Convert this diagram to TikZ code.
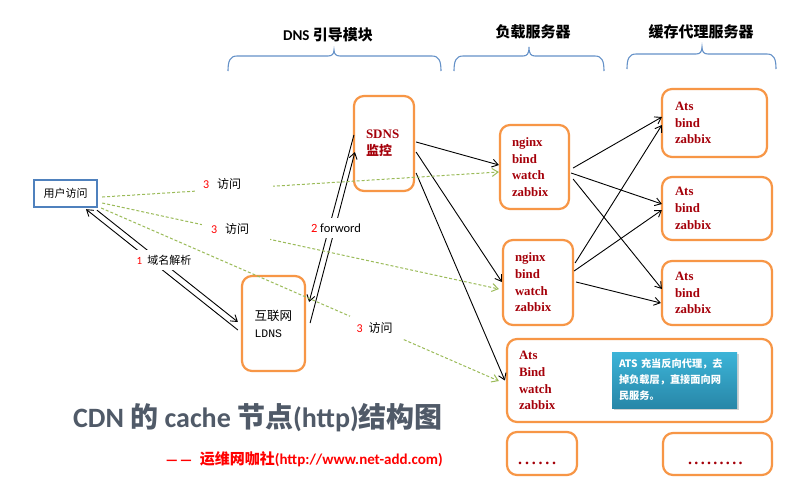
\documentclass[tikz,border=0pt]{standalone}
\usepackage{fontspec}
\setmainfont{Carlito}
\newfontfamily\cjk{Noto Sans CJK SC}
\newfontfamily\srv{Liberation Serif}
\newfontfamily\monof{Liberation Mono}
\usetikzlibrary{arrows.meta,calc,shadows}
\definecolor{obrd}{RGB}{247,150,70}
\definecolor{ublue}{RGB}{79,129,189}
\definecolor{brc}{RGB}{100,145,200}
\definecolor{dred}{RGB}{165,0,10}
\definecolor{gdash}{RGB}{155,187,89}
\definecolor{ttl}{RGB}{80,90,104}
\definecolor{ctop}{RGB}{60,180,216}
\definecolor{cbot}{RGB}{40,135,168}
\tikzset{
  obox/.style={draw=obrd, line width=2.2pt, rounded corners=10pt, inner xsep=12pt, inner ysep=0pt,
    align=left, text=dred, font=\srv\bfseries\fontsize{12.8}{16.7}\selectfont},
  blk/.style={-{Straight Barb[length=6pt,width=8pt]}, line width=0.9pt, black},
  grn/.style={-{Straight Barb[length=6pt,width=8pt]}, line width=1pt, gdash, dash pattern=on 3pt off 2pt},
  lbl/.style={fill=white, inner xsep=0pt, align=left},
  hdr/.style={font=\bfseries\fontsize{15}{18}\selectfont},
  bracestyle/.style={draw=brc, line width=1.1pt},
  dotsty/.style={text=dred, font=\srv\bfseries\fontsize{16}{18}\selectfont, inner sep=0pt, anchor=base west},
}
\newcommand{\cdnbrace}[6]{%
  \draw[bracestyle] (#1,#6) .. controls (#1,#4+5) and (#1+2,#4) .. (#1+9,#4) -- (#3-6,#4)
    .. controls (#3-2,#4) and (#3,#4-2) .. (#3,#5) .. controls (#3,#4-2) and (#3+2,#4) .. (#3+6,#4)
    -- (#2-9,#4) .. controls (#2-2,#4) and (#2,#4+5) .. (#2,#6);}
\begin{document}
\begin{tikzpicture}[x=1pt,y=-1pt]
\useasboundingbox (0,0) rectangle (809,499);
\fill[white] (0,0) rectangle (809,499);

% headers and braces
\node[hdr] (h1) at (328,35) {DNS {\cjk 引导模块}};
\node[hdr, font=\cjk\bfseries\fontsize{15}{18}\selectfont] (h2) at (533,32) {负载服务器};
\node[hdr, font=\cjk\bfseries\fontsize{15}{18}\selectfont] (h3) at (701,32) {缓存代理服务器};
\cdnbrace{228}{441}{334}{56}{50}{71}
\cdnbrace{454}{604}{529}{56}{47}{71}
\cdnbrace{627}{776}{702}{54}{47}{69}

% boxes
\node[draw=ublue, line width=2.4pt, minimum width=63, minimum height=27, inner sep=0pt,
  font=\cjk\fontsize{11}{13}\selectfont] (user) at (65.5,193.5) {用户访问};
\node[obox, minimum width=60, minimum height=95, text width=36, font=\srv\bfseries\fontsize{13}{17}\selectfont] (sdns) at (384,143.5) {SDNS\\{\cjk 监控}};
\node[obox, text=black, font=\cjk\fontsize{12.5}{17}\selectfont, minimum width=63, minimum height=95,
  text width=38, inner xsep=12.5pt] (ldns) at (273.5,323.5) {互联网\\{\monof\fontsize{11.5}{17}\selectfont LDNS}};
\node[obox, minimum width=69, minimum height=84, text width=45] (n1) at (534.5,167) {nginx\\bind\\watch\\zabbix};
\node[obox, minimum width=70, minimum height=85, text width=46] (n2) at (538,282.5) {nginx\\bind\\watch\\zabbix};
\node[obox, minimum width=105, minimum height=68, text width=79, inner xsep=13pt] (a1) at (714.5,123) {Ats\\bind\\zabbix};
\node[obox, minimum width=110, minimum height=63, text width=84, inner xsep=13pt] (a2) at (717,208.5) {Ats\\bind\\zabbix};
\node[obox, minimum width=110, minimum height=64, text width=84, inner xsep=13pt] (a3) at (717,293) {Ats\\bind\\zabbix};
\node[obox, minimum width=265, minimum height=83, text width=241] (big) at (639.5,380.5) {Ats\\Bind\\watch\\zabbix};
\node[top color=ctop, bottom color=cbot, drop shadow={opacity=0.35, shadow xshift=1.5pt, shadow yshift=-1.5pt},
  minimum width=125, minimum height=56, text width=111, inner xsep=7pt, align=left, text=white,
  font=\cjk\bfseries\fontsize{10.2}{16}\selectfont] (note) at (674.5,380) {ATS 充当反向代理，去\\掉负载层，直接面向网\\民服务。};
\node[obox, minimum width=70, minimum height=43] (d1) at (542,453.5) {};
\node[obox, minimum width=109, minimum height=42] (d2) at (717.5,454) {};
\node[dotsty] (d1t) at (518,464) {.\kern2.8pt.\kern2.8pt.\kern2.8pt.\kern2.8pt.\kern2.8pt.};
\node[dotsty] (d2t) at (688,464) {.\kern2.3pt.\kern2.3pt.\kern2.3pt.\kern2.3pt.\kern2.3pt.\kern2.3pt.\kern2.3pt.\kern2.3pt.};

% connectors
\draw[blk] ($(ldns.west)+(-3,6.5)$) -- ($(user.south)+(20.5,1)$);
\draw[blk] ($(user.south)+(31.5,2)$) -- ($(ldns.west)+(-3,-1.5)$);
\draw[blk] ($(ldns.east)+(4,-0.5)$) -- ($(sdns.west)+(2,8.5)$);
\draw[blk] ($(sdns.west)+(1,-8.5)$) -- ($(ldns.east)+(3,-21.5)$);
\draw[blk] ($(sdns.east)+(1,-1.5)$) -- ($(n1.west)+(0,-2)$);
\draw[blk] ($(sdns.east)+(1,8.5)$) -- ($(n2.west)+(0,-0.5)$);
\draw[blk] ($(sdns.east)+(1,29.5)$) -- ($(big.west)+(-1,0)$);
\draw[blk] ($(n1.east)+(3,1)$) -- ($(a1.west)+(1,-6)$);
\draw[blk] ($(n1.east)+(1,6)$) -- ($(a2.west)+(1,-4.5)$);
\draw[blk] ($(n1.east)+(3,12)$) -- ($(a3.west)+(1,-4)$);
\draw[blk] ($(n2.east)+(1,-19.5)$) -- ($(a1.west)+(1,2)$);
\draw[blk] ($(n2.east)+(0,-11.5)$) -- ($(a2.west)+(1,1.5)$);
\draw[blk] ($(n2.east)+(2,-0.5)$) -- ($(a3.west)+(0,10)$);
\draw[grn] ($(user.east)+(4,3.5)$) -- ($(n1.west)+(0,5)$);
\draw[grn] ($(user.east)+(4,9.5)$) -- ($(n2.west)+(-3,6.5)$);
\draw[grn] ($(user.east)+(3,14.5)$) -- ($(big.west)+(-7,0.5)$);

% labels
\node[lbl, font=\cjk\fontsize{11}{13}\selectfont, inner xsep=2pt, inner ysep=5pt] (l0) at (164,260) {\textcolor{red}{\rmfamily 1}\hspace{5pt}域名解析};
\node[lbl, font=\fontsize{12.5}{15}\selectfont, inner xsep=2pt, inner ysep=5.5pt] (lf) at (336,228) {\textcolor{red}{2} forword};
\node[lbl, text width=62, inner xsep=8pt, inner ysep=6pt, font=\cjk\fontsize{12}{14}\selectfont] (l1) at (234,184) {\textcolor{red}{\rmfamily 3}\hspace{8pt}访问};
\node[lbl, text width=50, inner xsep=9pt, inner ysep=6pt, font=\cjk\fontsize{12}{14}\selectfont] (l2) at (236,229) {\textcolor{red}{\rmfamily 3}\hspace{8pt}访问};
\node[lbl, text width=40, inner xsep=6.5pt, inner ysep=6pt, font=\cjk\fontsize{12}{14}\selectfont] (l3) at (376.5,328) {\textcolor{red}{\rmfamily 3}\hspace{6pt}访问};

% titles
\node[anchor=east, inner sep=0pt, text=ttl, font=\bfseries\fontsize{28}{32}\selectfont] (title) at (443,418)
  {CDN {\cjk 的} cache {\cjk 节点}(http){\cjk 结构图}};
\node[anchor=east, inner sep=0pt, text=red, font=\bfseries\fontsize{15}{17}\selectfont] (sub) at (443,459)
  {{\cjk\fontsize{12.5}{15}\selectfont —\kern3pt—}\hspace{8pt}{\cjk 运维网咖社}(http://www.net-add.com)};
\end{tikzpicture}
\end{document}
